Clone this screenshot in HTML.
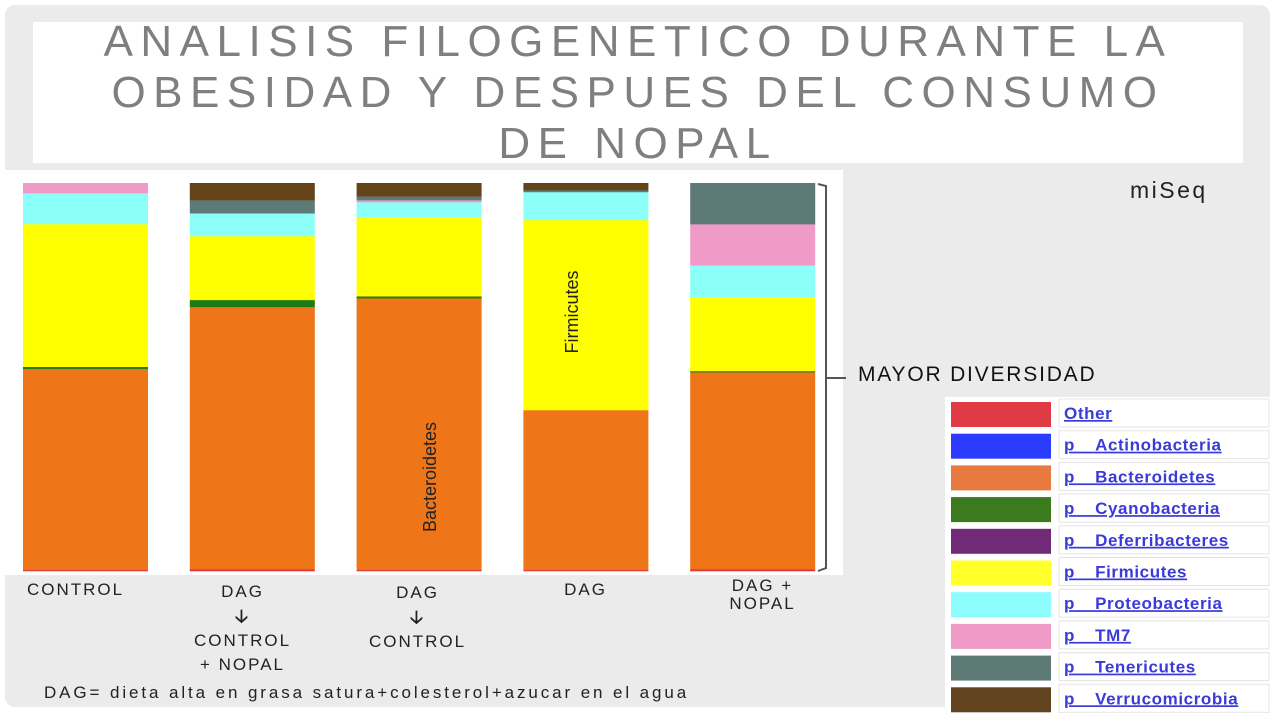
<!DOCTYPE html>
<html><head><meta charset="utf-8">
<style>
body{margin:0;width:1280px;height:720px;overflow:hidden;background:#fff;font-family:"Liberation Sans",sans-serif;}
#bg{position:absolute;left:0;top:0;width:1280px;height:720px;background:#fff;}
#slide{position:absolute;left:5px;top:5px;width:1265px;height:702px;background:#ebebeb;border-radius:10px;}
#titlebox{position:absolute;left:33px;top:22px;width:1210px;height:141px;background:#fff;}
#title{position:absolute;left:33px;top:16px;width:1210px;text-align:center;font-size:44px;line-height:51px;color:#7f7f7f;letter-spacing:7.5px;font-family:"Liberation Sans",sans-serif;font-weight:normal;}
#chartbox{position:absolute;left:5px;top:170px;width:838px;height:405px;background:#fff;}
.lbl{position:absolute;font-size:17px;color:#222;text-align:center;letter-spacing:2px;}
</style></head><body>
<div id="bg"></div>
<div id="slide"></div>
<div id="titlebox"></div>
<div id="title">ANALISIS FILOGENETICO DURANTE LA<br>OBESIDAD Y DESPUES DEL CONSUMO<br>DE NOPAL</div>
<div id="chartbox"></div>
<svg id="chart" width="1280" height="720" style="position:absolute;left:0;top:0"></svg>
<div class="lbl" style="left:13px;top:580px;width:125px">CONTROL</div>
<div class="lbl" style="left:180px;top:580px;width:125px;line-height:24px">DAG<br><b style="font-size:18px">&#129123;</b><br>CONTROL<br>+ NOPAL</div>
<div class="lbl" style="left:355px;top:581px;width:125px;line-height:24px">DAG<br><b style="font-size:18px">&#129123;</b><br>CONTROL</div>
<div class="lbl" style="left:523px;top:580px;width:125px">DAG</div>
<div class="lbl" style="left:700px;top:577px;width:125px;line-height:18px">DAG +<br>NOPAL</div>
<div class="lbl" style="left:44px;top:683px;font-size:17px;text-align:left;letter-spacing:2.9px;white-space:nowrap">DAG= dieta alta en grasa satura+colesterol+azucar en el agua</div>
<div class="lbl" style="left:1130px;top:177px;font-size:23px;letter-spacing:2.5px">miSeq</div>
<div class="lbl" style="left:858px;top:363px;font-size:21px;color:#111;letter-spacing:1.8px;white-space:nowrap">MAYOR DIVERSIDAD</div>
<script>
const categories=["CONTROL","DAG→CONTROL+NOPAL","DAG→CONTROL","DAG","DAG+NOPAL"];
const taxa=["Other","p__Actinobacteria","p__Bacteroidetes","p__Cyanobacteria","p__Deferribacteres","p__Firmicutes","p__Proteobacteria","p__TM7","p__Tenericutes","p__Verrucomicrobia"];
const colors=["#e0383e","#2244ff","#ee7518","#1e7a12","#6a2a70","#ffff00","#8cfff8","#f09ac8","#5e7a76","#654318"];
const legendColors=["#e03a44","#2c3cff","#e87a40","#3c7a1e","#702a78","#ffff2a","#8cfcfc","#f09ac8","#5e7a74","#624420"];
const other=[0.3,0.5,0.3,0.3,0.5];
const actino=[0,0,0,0,0];
const bactero=[52,67.8,70.1,41.2,50.8];
const cyano=[0.5,1.8,0.5,0,0.3];
const deferri=[0,0,0,0,0];
const firmi=[36.9,16.5,20.4,49,19.1];
const proteo=[8,5.9,3.9,7.2,8.2];
const tm7=[2.6,0,0.5,0,10.6];
const teneric=[0,3.4,1,0.5,10.6];
const verruco=[0,4.4,3.4,1.8,0];
const series=[other,actino,bactero,cyano,deferri,firmi,proteo,tm7,teneric,verruco];
const svg=document.getElementById('chart');
const NS="http://www.w3.org/2000/svg";
const x0=23,pitch=166.8,bw=125,yb=571,ph=388;
const y=v=>v/100*ph;
categories.forEach((c,i)=>{
  let tot=0;series.forEach(s=>tot+=s[i]);
  let acc=0;
  series.forEach((s,k)=>{
    const v=s[i]/tot*100; if(v<=0)return;
    const r=document.createElementNS(NS,'rect');
    r.setAttribute('x',x0+i*pitch);r.setAttribute('width',bw);
    r.setAttribute('y',yb-y(acc+v));r.setAttribute('height',y(v)+0.3);
    r.setAttribute('fill',colors[k]);
    
    
    svg.appendChild(r);acc+=v;
  });
});
function txt(str,cx,cy){const t=document.createElementNS(NS,'text');t.textContent=str;
t.setAttribute('transform',`translate(${cx},${cy}) rotate(-90)`);t.setAttribute('text-anchor','middle');
t.setAttribute('font-size','18');t.setAttribute('font-family','Liberation Sans Narrow, Liberation Sans, sans-serif');t.setAttribute('fill','#222');

svg.appendChild(t);}
txt("Bacteroidetes",436,477);txt("Firmicutes",578,312);
const br=document.createElementNS(NS,'path');
br.setAttribute('d','M818,184 L826,186 L826,568 L818,571 M826,378 L846,378');
br.setAttribute('stroke','#555');br.setAttribute('fill','none');br.setAttribute('stroke-width','2');

svg.appendChild(br);
const lg=document.createElementNS(NS,'rect');
lg.setAttribute('x',945);lg.setAttribute('y',397);lg.setAttribute('width',327);lg.setAttribute('height',320);lg.setAttribute('fill','#fff');

svg.appendChild(lg);
taxa.forEach((t,k)=>{
  const yy=402+k*31.7;
  const s=document.createElementNS(NS,'rect');
  s.setAttribute('x',951);s.setAttribute('y',yy);s.setAttribute('width',100);s.setAttribute('height',25);s.setAttribute('fill',legendColors[k]);
  
  svg.appendChild(s);
  const b=document.createElementNS(NS,'rect');
  b.setAttribute('x',1059);b.setAttribute('y',yy-3);b.setAttribute('width',210);b.setAttribute('height',28);b.setAttribute('fill','none');b.setAttribute('stroke','#e4e4e4');
  
  svg.appendChild(b);
  const tx=document.createElementNS(NS,'text');tx.textContent=t;
  tx.setAttribute('x',1064);tx.setAttribute('y',yy+17);tx.setAttribute('font-size','17');tx.setAttribute('font-weight','bold');
  tx.setAttribute('letter-spacing','0.6');
  tx.setAttribute('fill','#3a3ad8');tx.setAttribute('text-decoration','underline');tx.setAttribute('font-family','Liberation Sans, sans-serif');
  
  svg.appendChild(tx);
});
</script>
</body></html>
